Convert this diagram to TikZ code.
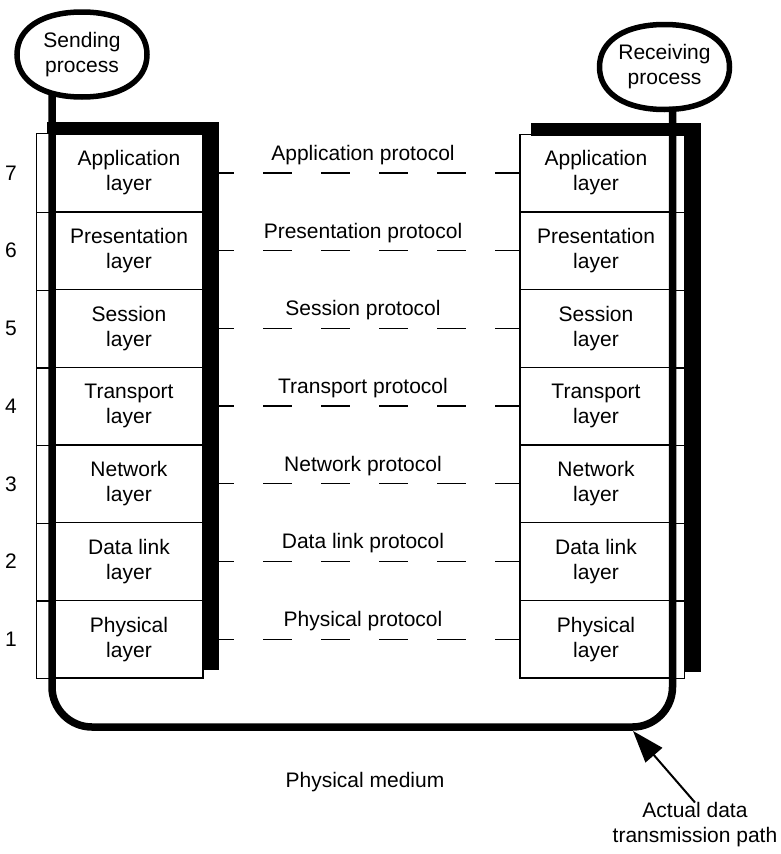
\documentclass[tikz,border=0pt]{standalone}
\usepackage{fontspec}
\setmainfont{Liberation Sans}
\usetikzlibrary{arrows.meta,calc}
\begin{document}
\begin{tikzpicture}[x=1pt,y=-1pt,
  txt/.style={font=\fontsize{21}{25}\selectfont, align=center, inner sep=0pt},
  layerbox/.style={txt, draw, line width=1.3pt, fill=white, minimum height=77.7pt},
  lbox/.style={layerbox, minimum width=148pt},
  rbox/.style={layerbox, minimum width=152pt},
  proc/.style={txt, outer sep=0pt, minimum width=130pt, minimum height=85pt},
  procline/.style={line width=5.5pt},
  proto/.style={line width=1.3pt, dash pattern=on 28.5pt off 29.5pt, dash phase=13.5pt},
  thinline/.style={line width=1.3pt},
  datapath/.style={line width=7.5pt, rounded corners=40pt},
  pointer/.style={line width=2pt, -{Triangle[length=32pt,width=22pt]}}]
\useasboundingbox (0,0) rectangle (780,854);

% layer boxes, numbers and protocol labels
\foreach \i/\n [count=\k from 0] in {7/Application, 6/Presentation, 5/Session, 4/Transport, 3/Network, 2/Data link, 1/Physical} {
  \pgfmathsetmacro\yy{173+\k*77.7}
  \node[lbox] (L\i) at (129,\yy) {\n\\layer};
  \node[rbox] (R\i) at (596,\yy) {\n\\layer};
  \node[txt] (N\i) at (11,\yy) {\i};
  \node[txt] (P\i) at (363,\yy-18) {\n{} protocol};
}

% thin strips beside the stacks
\draw[thinline] ([xshift=-18pt]L7.north west) rectangle (L1.south west);
\draw[thinline] (R7.north east) rectangle ([xshift=12pt]R1.south east);
\foreach \i in {7,6,5,4,3,2} {
  \draw[thinline] ([xshift=-18pt]L\i.south west) -- (L\i.south west);
  \draw[thinline] (R\i.south east) -- ([xshift=12pt]R\i.south east);
}

% black shadows
\fill ([xshift=-7pt,yshift=12pt]L7.north west) rectangle ([xshift=15pt]L7.north east);
\fill ([yshift=12pt]L7.north east) rectangle ([xshift=15pt,yshift=9pt]L1.south east);
\fill ([xshift=12pt,yshift=11pt]R7.north west) rectangle ([xshift=28pt,yshift=-2pt]R7.north east);
\fill ([xshift=12pt,yshift=11pt]R7.north east) rectangle ([xshift=28pt,yshift=7pt]R1.south east);

% peer protocols
\foreach \i in {7,6,5,4,3,2,1} {
  \draw[proto] ([xshift=15pt]L\i.east) -- (R\i.west);
}

% processes
\node[proc] (send) at (82,54.5) {Sending\\process};
\node[proc] (recv) at (664.5,67) {Receiving\\process};

% actual data path
\coordinate (bl) at (52,727);
\coordinate (br) at (672.5,727);
\draw[datapath] ($(send.south -| bl)+(0,-4)$) -- (bl) -- (br) -- ($(recv.south -| br)+(0,-3)$);

% process outlines
\foreach \p in {send,recv} {
  \draw[procline] (\p.east) .. controls +(0,-26) and +(40,0) .. (\p.north)
    .. controls +(-40,0) and +(0,-26) .. (\p.west)
    .. controls +(0,26) and +(-40,0) .. (\p.south)
    .. controls +(40,0) and +(0,26) .. (\p.east) -- cycle;
}

% labels
\node[txt] (medium) at (365,782) {Physical medium};
\node[txt] (trans) at (695,825) {Actual data\\transmission path};
\coordinate (hit) at (633,731);
\draw[pointer] (trans.north) -- (hit);
\end{tikzpicture}
\end{document}
